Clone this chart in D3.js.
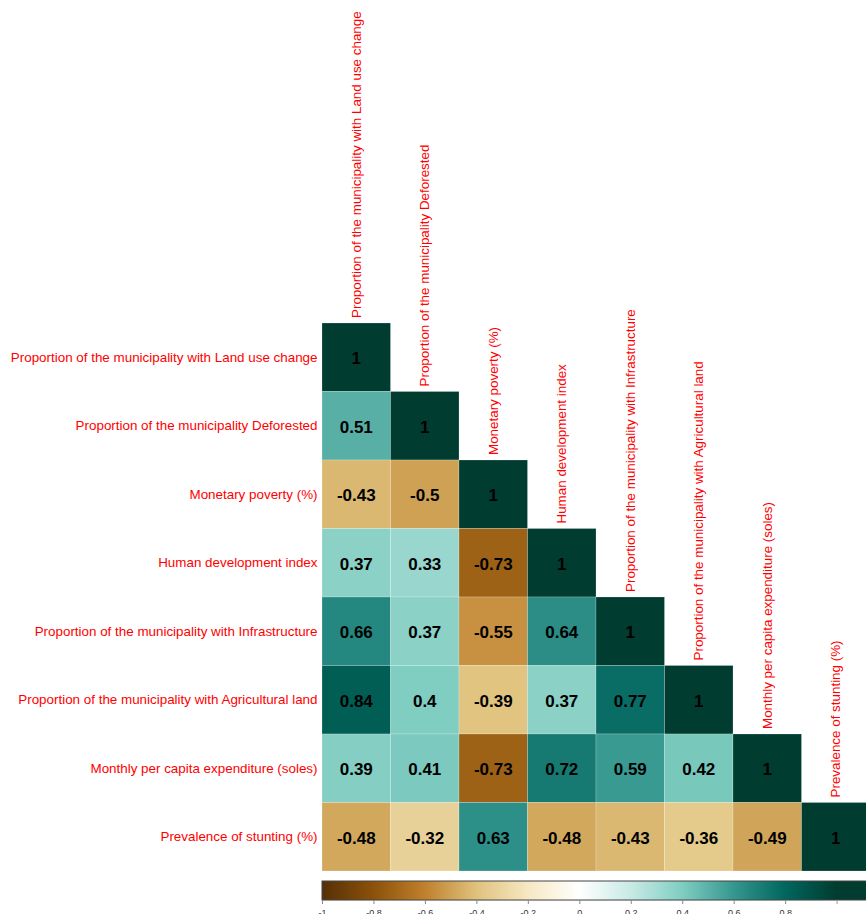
<!DOCTYPE html>
<html>
<head>
<meta charset="utf-8">
<script src="https://cdn.jsdelivr.net/npm/d3@7"></script>
<style>
html,body{margin:0;padding:0;background:#fff;}
svg{display:block;}
</style>
</head>
<body>
<script>
const variables = [
  "Proportion of the municipality with Land use change",
  "Proportion of the municipality Deforested",
  "Monetary poverty (%)",
  "Human development index",
  "Proportion of the municipality with Infrastructure",
  "Proportion of the municipality with Agricultural land",
  "Monthly per capita expenditure (soles)",
  "Prevalence of stunting (%)"
];
// lower-triangle correlation values, row by row
const row0 = [1];
const row1 = [0.51, 1];
const row2 = [-0.43, -0.5, 1];
const row3 = [0.37, 0.33, -0.73, 1];
const row4 = [0.66, 0.37, -0.55, 0.64, 1];
const row5 = [0.84, 0.4, -0.39, 0.37, 0.77, 1];
const row6 = [0.39, 0.41, -0.73, 0.72, 0.59, 0.42, 1];
const row7 = [-0.48, -0.32, 0.63, -0.48, -0.43, -0.36, -0.49, 1];
const rows = [row0, row1, row2, row3, row4, row5, row6, row7];

const legendTicks = [-1, -0.8, -0.6, -0.4, -0.2, 0, 0.2, 0.4, 0.6, 0.8];
const paletteStops = ["#543005", "#8C510A", "#BF812D", "#DFC27D", "#F6E8C3", "#FFFFFF",
                      "#C7EAE5", "#80CDC1", "#35978F", "#01665E", "#003C30"];

const W = 866, H = 914;
const svg = d3.select("body").append("svg").attr("width", W).attr("height", H);

const gridLeft = 322, gridTop = 323, cell = 68.5;
const n = variables.length;

const x = d3.scaleBand().domain(d3.range(n)).range([gridLeft, gridLeft + n * cell]);
const y = d3.scaleBand().domain(d3.range(n)).range([gridTop, gridTop + n * cell]);

const color = d3.scaleLinear()
  .domain(d3.range(11).map(i => -1 + i * 0.2))
  .range(paletteStops)
  .interpolate(d3.interpolateRgb)
  .clamp(true);

const cells = [];
rows.forEach((r, i) => r.forEach((v, j) => cells.push({i, j, v})));

const g = svg.append("g");
g.selectAll("rect.cell").data(cells).join("rect")
  .attr("class", "cell")
  .attr("x", d => x(d.j))
  .attr("y", d => y(d.i))
  .attr("width", x.bandwidth())
  .attr("height", y.bandwidth())
  .attr("fill", d => color(d.v))
  .attr("stroke", "rgba(255,255,255,0.35)")
  .attr("stroke-width", 0.6);

g.selectAll("text.val").data(cells).join("text")
  .attr("class", "val")
  .attr("x", d => x(d.j) + x.bandwidth() / 2)
  .attr("y", d => y(d.i) + y.bandwidth() / 2 + 1.5)
  .attr("text-anchor", "middle")
  .attr("dominant-baseline", "central")
  .attr("font-family", "'Liberation Sans', Arial, sans-serif")
  .attr("font-weight", "bold")
  .attr("font-size", "17px")
  .attr("fill", "#000")
  .text(d => String(d.v));

// row labels
svg.selectAll("text.rlab").data(variables).join("text")
  .attr("class", "rlab")
  .attr("x", gridLeft - 4.5)
  .attr("y", (d, i) => y(i) + y.bandwidth() / 2)
  .attr("text-anchor", "end")
  .attr("dominant-baseline", "central")
  .attr("font-family", "'Liberation Sans', Arial, sans-serif")
  .attr("font-size", "13.4px")
  .attr("fill", "#FF0000")
  .text(d => d);

// column labels (rotated, above diagonal cell)
svg.selectAll("text.clab").data(variables).join("text")
  .attr("class", "clab")
  .attr("transform", (d, i) => `translate(${x(i) + x.bandwidth() / 2},${y(i) - 5}) rotate(-90)`)
  .attr("text-anchor", "start")
  .attr("dominant-baseline", "central")
  .attr("font-family", "'Liberation Sans', Arial, sans-serif")
  .attr("font-size", "13.4px")
  .attr("fill", "#FF0000")
  .text(d => d);

// colour legend
const lx = d3.scaleLinear().domain([-1, 1]).range([322, 836.6]);
const barY = 881, barH = 19;
const defs = svg.append("defs");
const grad = defs.append("linearGradient").attr("id", "cbar")
  .attr("gradientUnits", "userSpaceOnUse")
  .attr("x1", lx(-1)).attr("x2", lx(1)).attr("y1", 0).attr("y2", 0);
d3.range(0, 101).forEach(k => {
  const v = -1 + k * 0.02;
  grad.append("stop").attr("offset", (k / 100)).attr("stop-color", color(v));
});
svg.append("rect")
  .attr("x", lx(-1)).attr("y", barY)
  .attr("width", 870 - lx(-1)).attr("height", barH)
  .attr("fill", "url(#cbar)")
  .attr("stroke", "#444").attr("stroke-width", 1);

const axis = d3.axisBottom(lx).tickValues(legendTicks).tickSize(4).tickFormat(d => String(d));
const ag = svg.append("g").attr("transform", `translate(0,${barY + barH})`).call(axis);
ag.select(".domain").attr("stroke", "#999");
ag.selectAll(".tick line").attr("stroke", "#888");
ag.selectAll(".tick text")
  .attr("font-family", "'Liberation Sans', Arial, sans-serif")
  .attr("font-size", "9px")
  .attr("fill", "#333")
  .attr("y", 10);
</script>
</body>
</html>
